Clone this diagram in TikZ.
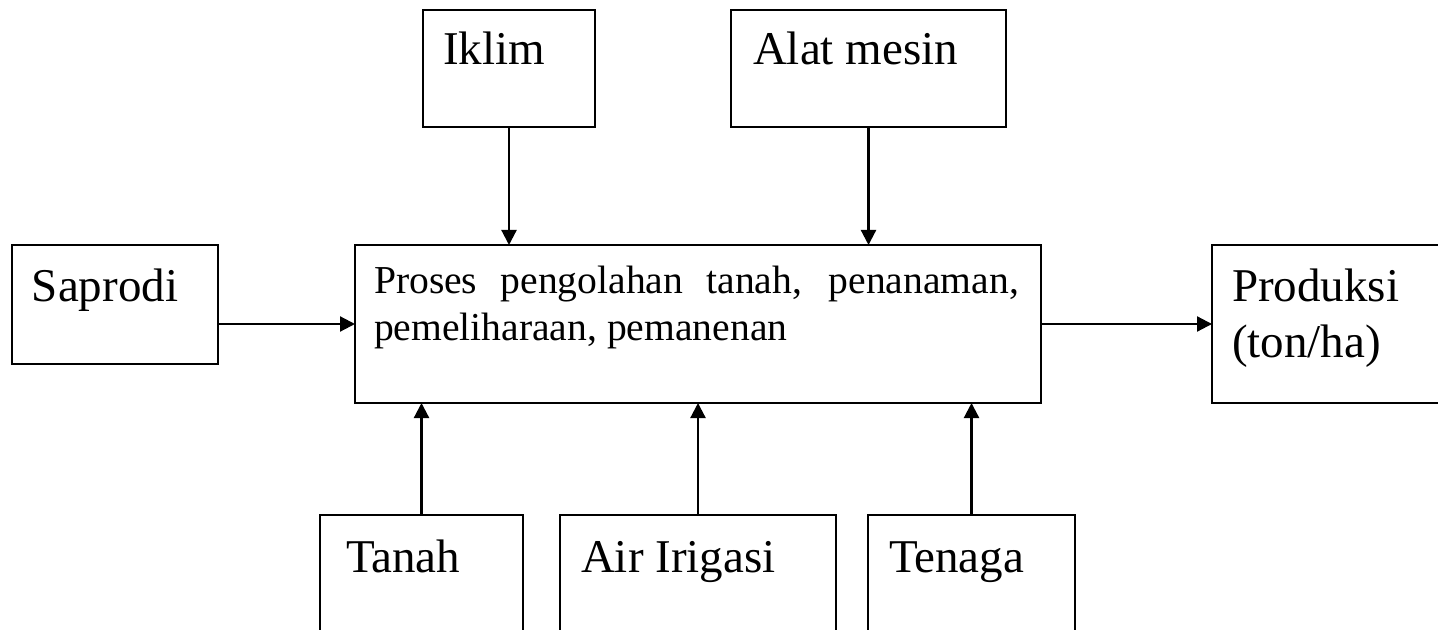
\documentclass[tikz,border=0pt]{standalone}
\usepackage{fontspec}
\setmainfont{Liberation Serif}
\usetikzlibrary{arrows.meta}
\newcommand\fbig{\fontsize{23.5pt}{28pt}\selectfont}
\newcommand\fmid{\fontsize{19.8pt}{23.5pt}\selectfont}
\tikzset{
  box/.style={draw=black, line width=1.4pt, rectangle, inner sep=0pt, outer sep=0pt, anchor=north west},
  lbl/.style={inner sep=0pt, outer sep=0pt, anchor=base west, font=\fbig},
  arr/.style={draw=black, line width=1.1pt, -{Triangle[length=7.5pt,width=7.5pt]}}
}
\begin{document}
\begin{tikzpicture}[x=0.5pt,y=-0.5pt]
\useasboundingbox (0,0) rectangle (1438,630);
\clip (0,0) rectangle (1438,630);
% boxes
\node[box, minimum width=86pt,   minimum height=58.5pt] (iklim)    at (423,10) {};
\node[box, minimum width=137.5pt,minimum height=58.5pt] (alat)     at (731,10) {};
\node[box, minimum width=103pt,  minimum height=59.5pt] (saprodi)  at (12,245) {};
\node[box, minimum width=343pt,  minimum height=79pt]   (center)   at (355,245) {};
\node[box, minimum width=150pt,  minimum height=79pt]   (produksi) at (1212,245) {};
\node[box, minimum width=101.5pt,minimum height=82.5pt] (tanah)    at (320,515) {};
\node[box, minimum width=138pt,  minimum height=82.5pt] (air)      at (560,515) {};
\node[box, minimum width=103.5pt,minimum height=82.5pt] (tenaga)   at (868,515) {};
% texts
\node[lbl] (tIklim)   at (443,65)  {Iklim};
\node[lbl] (tAlat)    at (753,65)  {Alat mesin};
\node[lbl] (tSaprodi) at (32,302)  {Saprodi};
\node[lbl] (tProd)    at (1232,302) {\parbox[t]{120pt}{\fbig\raggedright Produksi\\(ton/ha)}};
\node[lbl] (tCenter)  at (374,293) {\parbox[t]{322.5pt}{\fmid\hyphenpenalty=10000\tolerance=10000 Proses pengolahan tanah, penanaman, pemeliharaan, pemanenan}};
\node[lbl] (tTanah)   at (346,572) {Tanah};
\node[lbl] (tAir)     at (581,572) {Air Irigasi};
\node[lbl] (tTenaga)  at (889,572) {Tenaga};
% connectors
\draw[arr] (iklim.south) -- (iklim.south |- center.north);
\draw[arr] (alat.south) -- (alat.south |- center.north);
\draw[arr] (saprodi.east |- center.west) -- (center.west);
\draw[arr] (center.east) -- (center.east -| produksi.west);
\draw[arr] (tanah.north) -- (tanah.north |- center.south);
\draw[arr] (air.north) -- (air.north |- center.south);
\draw[arr] (tenaga.north) -- (tenaga.north |- center.south);
\end{tikzpicture}
\end{document}
